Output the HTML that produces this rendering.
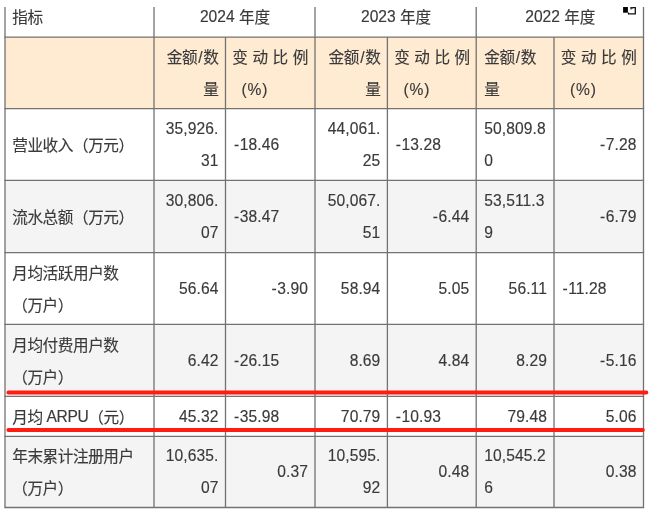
<!DOCTYPE html>
<html lang="zh-CN">
<head>
<meta charset="utf-8">
<title>指标</title>
<style>
html,body{margin:0;padding:0;background:#fff;}
body{width:650px;height:511px;overflow:hidden;position:relative;
 font-family:"Liberation Sans","Noto Sans CJK SC",sans-serif;font-size:15.6px;line-height:32px;color:#3a3a3a;letter-spacing:-0.4px;-webkit-text-stroke:0.15px #3a3a3a;}
.bg{position:absolute;}
.c{position:absolute;box-sizing:border-box;display:flex;flex-direction:column;justify-content:center;padding:0 7px 0 8px;white-space:nowrap;}
.l{text-align:left;align-items:flex-start;}
.r{text-align:right;align-items:flex-end;}
.m{text-align:center;align-items:center;}
.j{align-items:stretch;}
.jl{display:block;white-space:nowrap;word-spacing:1px;margin-left:-1.2px;}
.n{letter-spacing:0.1px;padding-left:8px;}
.u{position:relative;top:-1px;}
.s{margin:0 1.1px 0 1.2px;}
.hy{display:inline-block;width:6.2px;text-align:center;}
.t{padding-left:7.2px;}
.h{letter-spacing:0;}
.pc{display:block;padding-left:8px;letter-spacing:0.9px;}
svg{position:absolute;left:0;top:0;}
</style>
</head>
<body>
<div class="bg" style="left:5px;top:37.1px;width:638.5px;height:71.5px;background:#FFEBD2"></div>
<div class="bg" style="left:5px;top:180.4px;width:638.5px;height:72.15px;background:#F4F4F4"></div>
<div class="bg" style="left:5px;top:324.4px;width:638.5px;height:72px;background:#F4F4F4"></div>
<div class="bg" style="left:5px;top:436.3px;width:638.5px;height:71.2px;background:#F4F4F4"></div>
<div class="c l t" style="left:5px;top:-1.7px;width:149px;height:40.1px"><span>指标</span></div>
<div class="c m h" style="left:154px;top:-1.7px;width:161px;height:40.1px"><span><span class="u">2024</span> 年度</span></div>
<div class="c m h" style="left:315px;top:-1.7px;width:161.2px;height:40.1px"><span><span class="u">2023</span> 年度</span></div>
<div class="c m h" style="left:476.2px;top:-1.7px;width:167.3px;height:40.1px"><span><span class="u">2022</span> 年度</span></div>
<div class="c r" style="left:154px;top:38.4px;width:71.5px;height:71.5px"><span>金额<span class="s">/</span>数<br>量</span></div>
<div class="c j" style="left:225.5px;top:38.4px;width:89.5px;height:71.5px"><span class="jl">变 动 比 例</span><span class="pc">(%)</span></div>
<div class="c r" style="left:315px;top:38.4px;width:72.4px;height:71.5px"><span>金额<span class="s">/</span>数<br>量</span></div>
<div class="c j" style="left:387.4px;top:38.4px;width:88.8px;height:71.5px"><span class="jl">变 动 比 例</span><span class="pc">(%)</span></div>
<div class="c l" style="left:476.2px;top:38.4px;width:77.8px;height:71.5px"><span>金额<span class="s">/</span>数<br>量</span></div>
<div class="c j" style="left:554px;top:38.4px;width:89.5px;height:71.5px"><span class="jl">变 动 比 例</span><span class="pc">(%)</span></div>
<div class="c l t" style="left:5px;top:109.9px;width:149px;height:71.8px"><span>营业收入（万元）</span></div>
<div class="c r n" style="left:154px;top:108.9px;width:71.5px;height:71.8px"><span>35,926.<br>31</span></div>
<div class="c l n" style="left:225.5px;top:108.9px;width:89.5px;height:71.8px"><span><span class="hy">-</span>18.46</span></div>
<div class="c r n" style="left:315px;top:108.9px;width:72.4px;height:71.8px"><span>44,061.<br>25</span></div>
<div class="c l n" style="left:387.4px;top:108.9px;width:88.8px;height:71.8px"><span><span class="hy">-</span>13.28</span></div>
<div class="c l n" style="left:476.2px;top:108.9px;width:77.8px;height:71.8px"><span>50,809.8<br>0</span></div>
<div class="c r n" style="left:554px;top:108.9px;width:89.5px;height:71.8px"><span><span class="hy">-</span>7.28</span></div>
<div class="c l t" style="left:5px;top:181.7px;width:149px;height:72.15px"><span>流水总额（万元）</span></div>
<div class="c r n" style="left:154px;top:180.7px;width:71.5px;height:72.15px"><span>30,806.<br>07</span></div>
<div class="c l n" style="left:225.5px;top:180.7px;width:89.5px;height:72.15px"><span><span class="hy">-</span>38.47</span></div>
<div class="c r n" style="left:315px;top:180.7px;width:72.4px;height:72.15px"><span>50,067.<br>51</span></div>
<div class="c r n" style="left:387.4px;top:180.7px;width:88.8px;height:72.15px"><span><span class="hy">-</span>6.44</span></div>
<div class="c l n" style="left:476.2px;top:180.7px;width:77.8px;height:72.15px"><span>53,511.3<br>9</span></div>
<div class="c r n" style="left:554px;top:180.7px;width:89.5px;height:72.15px"><span><span class="hy">-</span>6.79</span></div>
<div class="c l t" style="left:5px;top:253.85px;width:149px;height:71.85px"><span>月均活跃用户数<br>（万户）</span></div>
<div class="c r n" style="left:154px;top:252.85px;width:71.5px;height:71.85px"><span>56.64</span></div>
<div class="c r n" style="left:225.5px;top:252.85px;width:89.5px;height:71.85px"><span><span class="hy">-</span>3.90</span></div>
<div class="c r n" style="left:315px;top:252.85px;width:72.4px;height:71.85px"><span>58.94</span></div>
<div class="c r n" style="left:387.4px;top:252.85px;width:88.8px;height:71.85px"><span>5.05</span></div>
<div class="c r n" style="left:476.2px;top:252.85px;width:77.8px;height:71.85px"><span>56.11</span></div>
<div class="c l n" style="left:554px;top:252.85px;width:89.5px;height:71.85px"><span><span class="hy">-</span>11.28</span></div>
<div class="c l t" style="left:5px;top:325.7px;width:149px;height:72px"><span>月均付费用户数<br>（万户）</span></div>
<div class="c r n" style="left:154px;top:324.7px;width:71.5px;height:72px"><span>6.42</span></div>
<div class="c l n" style="left:225.5px;top:324.7px;width:89.5px;height:72px"><span><span class="hy">-</span>26.15</span></div>
<div class="c r n" style="left:315px;top:324.7px;width:72.4px;height:72px"><span>8.69</span></div>
<div class="c r n" style="left:387.4px;top:324.7px;width:88.8px;height:72px"><span>4.84</span></div>
<div class="c r n" style="left:476.2px;top:324.7px;width:77.8px;height:72px"><span>8.29</span></div>
<div class="c r n" style="left:554px;top:324.7px;width:89.5px;height:72px"><span><span class="hy">-</span>5.16</span></div>
<div class="c l t" style="left:5px;top:397.7px;width:149px;height:39.9px"><span>月均 <span class="u">ARPU</span>（元）</span></div>
<div class="c r n" style="left:154px;top:396.7px;width:71.5px;height:39.9px"><span>45.32</span></div>
<div class="c l n" style="left:225.5px;top:396.7px;width:89.5px;height:39.9px"><span><span class="hy">-</span>35.98</span></div>
<div class="c r n" style="left:315px;top:396.7px;width:72.4px;height:39.9px"><span>70.79</span></div>
<div class="c l n" style="left:387.4px;top:396.7px;width:88.8px;height:39.9px"><span><span class="hy">-</span>10.93</span></div>
<div class="c r n" style="left:476.2px;top:396.7px;width:77.8px;height:39.9px"><span>79.48</span></div>
<div class="c r n" style="left:554px;top:396.7px;width:89.5px;height:39.9px"><span>5.06</span></div>
<div class="c l t" style="left:5px;top:437.6px;width:149px;height:71.2px"><span>年末累计注册用户<br>（万户）</span></div>
<div class="c r n" style="left:154px;top:436.6px;width:71.5px;height:71.2px"><span>10,635.<br>07</span></div>
<div class="c r n" style="left:225.5px;top:436.6px;width:89.5px;height:71.2px"><span>0.37</span></div>
<div class="c r n" style="left:315px;top:436.6px;width:72.4px;height:71.2px"><span>10,595.<br>92</span></div>
<div class="c r n" style="left:387.4px;top:436.6px;width:88.8px;height:71.2px"><span>0.48</span></div>
<div class="c l n" style="left:476.2px;top:436.6px;width:77.8px;height:71.2px"><span>10,545.2<br>6</span></div>
<div class="c r n" style="left:554px;top:436.6px;width:89.5px;height:71.2px"><span>0.38</span></div>
<svg width="650" height="511" viewBox="0 0 650 511">
<rect x="0" y="0" width="650" height="7" fill="#fff"/>
<g stroke="#727272" stroke-width="1.3" fill="none">
<line x1="4.4" y1="37.1" x2="644.1" y2="37.1"/>
<line x1="4.4" y1="108.6" x2="644.1" y2="108.6"/>
<line x1="4.4" y1="180.4" x2="644.1" y2="180.4"/>
<line x1="4.4" y1="252.55" x2="644.1" y2="252.55"/>
<line x1="4.4" y1="324.4" x2="644.1" y2="324.4"/>
<line x1="4.4" y1="396.4" x2="644.1" y2="396.4"/>
<line x1="4.4" y1="436.3" x2="644.1" y2="436.3"/>
<line x1="4.4" y1="507.5" x2="644.1" y2="507.5"/>
<line x1="5" y1="7" x2="5" y2="507.5"/>
<line x1="154" y1="7" x2="154" y2="507.5"/>
<line x1="225.5" y1="37.1" x2="225.5" y2="507.5"/>
<line x1="315" y1="7" x2="315" y2="507.5"/>
<line x1="387.4" y1="37.1" x2="387.4" y2="507.5"/>
<line x1="476.2" y1="7" x2="476.2" y2="507.5"/>
<line x1="554" y1="37.1" x2="554" y2="507.5"/>
<line x1="643.5" y1="7" x2="643.5" y2="507.5"/>
</g>
<g stroke="#FF1C10" stroke-width="4" stroke-linecap="round">
<line x1="8.4" y1="392.4" x2="646.3" y2="392.5"/>
<line x1="8.4" y1="430" x2="642.8" y2="430"/>
</g>
<rect x="623.1" y="7" width="4.8" height="5.7" fill="#000"/>
<path d="M630.8 7.7 H635.3 V13.9 H628.5 V12.6" fill="none" stroke="#111" stroke-width="1.3"/>
<path d="M630.4 7 H633 V8.6 H631.6 V9.4 H630.4 Z" fill="#222"/>
</svg>
</body>
</html>
